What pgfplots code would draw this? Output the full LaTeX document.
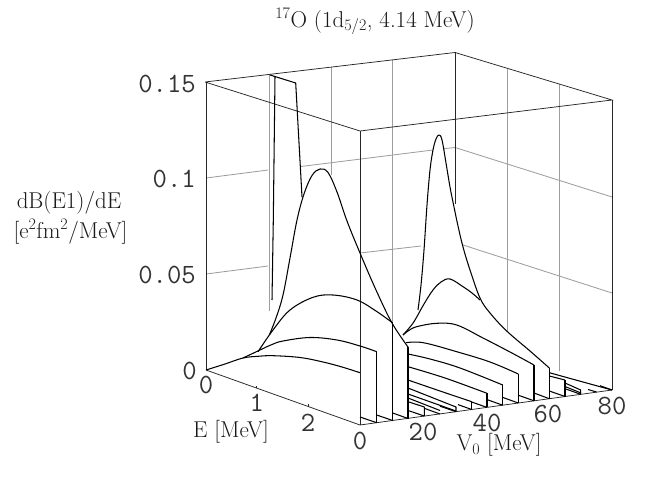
\documentclass[border=0pt]{standalone}
\usepackage{fontspec}
\usepackage{pgfplots}
\pgfplotsset{compat=1.18}
\newcommand{\lab}[1]{\fontsize{23}{25}\selectfont #1}
\newcommand{\tic}[1]{\fontsize{28}{30}\selectfont\ttfamily\color{black!80} #1}
\pgfplotsset{
  bx/.style={black!85,line width=0.75bp,mark=none},
  cv/.style={black,line width=1.05bp,mark=none,line join=round},
  sm/.style={cv,smooth,tension=0.6},
  gr/.style={black!38,line width=0.85bp,mark=none},
}
\begin{document}
\begin{tikzpicture}
\path (0,0) rectangle (654bp,478bp);
\begin{axis}[at={(0,0)},anchor=south west,scale only axis,width=654bp,height=478bp,
  xmin=0,xmax=654,ymin=0,ymax=478,y dir=reverse,hide axis,clip=false]
% grid
\addplot[gr] coordinates {(269,75)(269,311)};
\addplot[gr] coordinates {(331,67)(331,175)};
\addplot[gr] coordinates {(392.7,60)(392.7,323)};
\addplot[gr] coordinates {(507,69)(507,332)};
\addplot[gr] coordinates {(559,84)(559,371)};
\addplot[gr] coordinates {(206,178)(268,170)};
\addplot[gr] coordinates {(301,166.5)(433,150)};
\addplot[gr] coordinates {(444,148.7)(455,147.5)(612,197)};
\addplot[gr] coordinates {(206,274)(268,266)};
\addplot[gr] coordinates {(360,253)(421,246)};
\addplot[gr] coordinates {(463,245)(612,293)};
% box
\addplot[bx] coordinates {(205,82)(360,131)(612,100)(455,52.5)(205,82)};
\addplot[bx] coordinates {(206,82)(206,370)};
\addplot[bx] coordinates {(360,131)(360,425)};
\addplot[bx] coordinates {(612,100)(612,390)};
\addplot[bx] coordinates {(455,52.5)(455,204)};
\addplot[bx] coordinates {(206,370)(360,425)(612,390)};
\addplot[bx] coordinates {(256.7,388.2)(256.7,385.7)};
\addplot[bx] coordinates {(308,406.6)(308,404)};
% slice curves
\addplot[sm] coordinates {(206,370)(225,364)(243,358)(258,356.3)(273,355.7)(300,357.5)(323,362)(342,367)(360,372.7)};
\addplot[sm] coordinates {(243,358)(260,350)(272,344.5)(283,341)(310,337.5)(337,340)(360,346)(376.7,351.7)};
\addplot[cv] coordinates {(376.7,351.7)(376.7,422.7)};
\addplot[cv] coordinates {(360,417)(376.7,422.7)};
\addplot[sm] coordinates {(258,351.7)(273,330)(290,310)(313,297.3)(333,295)(357,300)(377,311.7)(392.7,323)};
\addplot[cv] coordinates {(392.7,323)(392.7,420.5)};
\addplot[cv] coordinates {(376.7,415)(392.7,420.5)};
\addplot[sm] coordinates {(269.3,335)(276,318)(283,295)(290,258)(297,220)(304,194)(312,175.5)(320,169)(328,172.5)(337,192)(347,221)(360,253)(376,290)(392,323)(408,347)};
\addplot[cv] coordinates {(408,347)(408,418.5)};
\addplot[cv] coordinates {(392.7,413)(408,418.5)};
% clipped spike
\addplot[cv] coordinates {(275,76)(273.3,220)(272,300)};
\addplot[cv] coordinates {(270,75)(295.7,83)(302,197)};
\addplot[cv] coordinates {(408,401.7)(424.3,407)(424.3,416)};
\addplot[cv] coordinates {(408,410.5)(424.3,416)};
% low slices
\addplot[cv] coordinates {(408,398)(440,410.5)};
\addplot[cv] coordinates {(408,394)(456,411)};
\addplot[cv] coordinates {(408,388)(456,407)(456,411.7)};
\addplot[cv] coordinates {(424.3,408.3)(440,414)};
\addplot[cv] coordinates {(440,406.2)(456,411.7)};
\addplot[sm] coordinates {(408,380)(440,391)(471.7,401.7)};
\addplot[cv] coordinates {(471.7,401.7)(471.7,409.5)};
\addplot[cv] coordinates {(458,404.6)(471.7,409.5)};
\addplot[sm] coordinates {(408,366.7)(445,378)(487,393.3)};
\addplot[cv] coordinates {(487,393.3)(487,407.4)};
\addplot[cv] coordinates {(471.7,402)(487,407.4)};
\addplot[sm] coordinates {(408,354)(430,359)(460,368)(502.7,385)};
\addplot[cv] coordinates {(502.7,385)(502.7,405.2)};
\addplot[cv] coordinates {(487,399.6)(502.7,405.2)};
\addplot[sm] coordinates {(406,342.7)(423.3,342.7)(456.7,351.7)(490,362)(518.3,374)};
\addplot[cv] coordinates {(518.3,374)(518.3,403)};
\addplot[cv] coordinates {(502.7,397.4)(518.3,403)};
\addplot[sm] coordinates {(403,335)(408,331)(416.7,326.7)(436.7,323.3)(456.7,325)(483,338)(510,352)(534,365)};
\addplot[cv] coordinates {(534,365)(534,400.8)};
\addplot[cv] coordinates {(518.3,395.2)(534,400.8)};
% second peak
\addplot[sm] coordinates {(418,310)(421,285)(424,250)(427,205)(430,170)(433,150)(436,139)(439,135)(442,140)(446,163)(450,187)(454,207)(458,226)(463,247)(470,270)(480,298)(490,313)(506.7,331)(530,351)(549.3,368)};
\addplot[cv] coordinates {(549.3,368)(549.3,398.7)};
\addplot[cv] coordinates {(534,393)(549.3,398.7)};
\addplot[sm] coordinates {(403,335)(410,327)(415,320)(424,304)(433,290)(441,282)(450,279)(463,286.7)(472,293)(480,300)};
% tail slices
\addplot[cv] coordinates {(549.3,372.7)(612,390)};
\addplot[cv] coordinates {(549.3,376)(565,380)};
\addplot[cv] coordinates {(565,380)(565,396.5)};
\addplot[cv] coordinates {(549.3,391)(565,396.5)};
\addplot[cv] coordinates {(565,383)(580.7,390)(580.7,394.3)};
\addplot[cv] coordinates {(565,386.5)(581,393)};
\addplot[cv] coordinates {(565,388.7)(580.7,394.3)};
\addplot[cv] coordinates {(588,389.5)(596.5,392)};
\addplot[cv] coordinates {(600,385.7)(612,390)};
% text
\node[black!90] at (axis cs:375,21) {\lab{\textsuperscript{17}O (1d\textsubscript{5/2}, 4.14 MeV)}};
\node[black!90] at (axis cs:69,203) {\lab{dB(E1)/dE}};
\node[black!90] at (axis cs:70.5,232) {\lab{[e\textsuperscript{2}fm\textsuperscript{2}/MeV]}};
\node[black!90] at (axis cs:231,432) {\lab{E [MeV]}};
\node[black!90] at (axis cs:499,445) {\lab{V\textsubscript{0} [MeV]}};
\node[anchor=east,inner sep=0pt] at (axis cs:196,84) {\tic{0.15}};
\node[anchor=east,inner sep=0pt] at (axis cs:196,179) {\tic{0.1}};
\node[anchor=east,inner sep=0pt] at (axis cs:196,275) {\tic{0.05}};
\node[anchor=east,inner sep=0pt] at (axis cs:197,371) {\tic{0}};
\node[inner sep=0pt] at (axis cs:206,385) {\tic{0}};
\node[inner sep=0pt] at (axis cs:256.7,403) {\tic{1}};
\node[inner sep=0pt] at (axis cs:308,423) {\tic{2}};
\node[inner sep=0pt] at (axis cs:360,441) {\tic{0}};
\node[inner sep=0pt] at (axis cs:423,432) {\tic{20}};
\node[inner sep=0pt] at (axis cs:487,423) {\tic{40}};
\node[inner sep=0pt] at (axis cs:548,414) {\tic{60}};
\node[inner sep=0pt] at (axis cs:612,406) {\tic{80}};
\end{axis}
\end{tikzpicture}
\end{document}
